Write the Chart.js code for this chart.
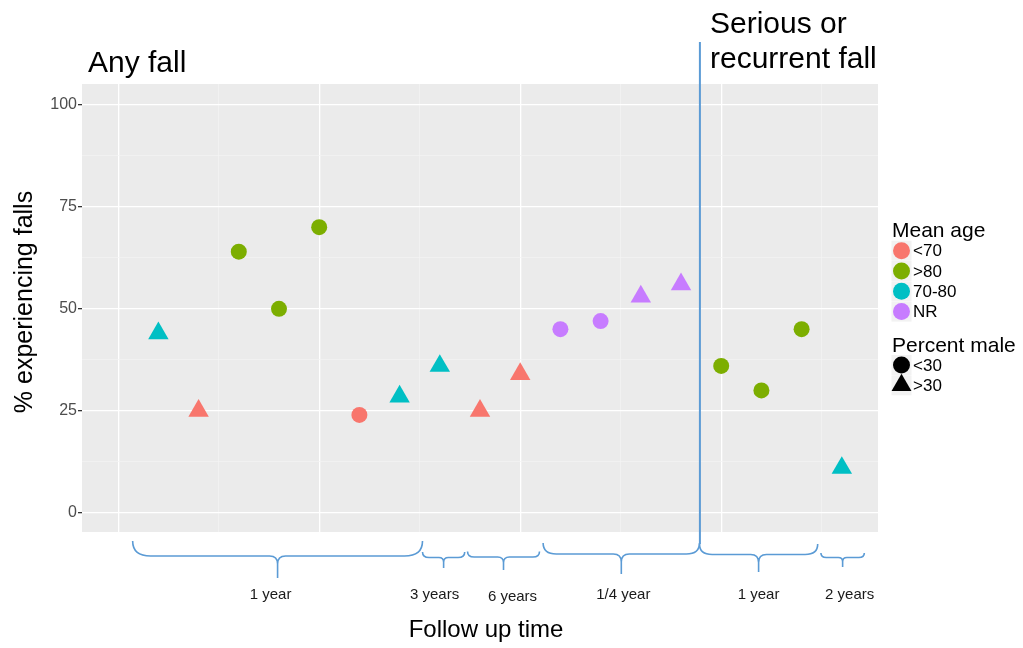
<!DOCTYPE html>
<html>
<head>
<meta charset="utf-8">
<title>Falls by follow up time</title>
<script src="https://cdn.jsdelivr.net/npm/chart.js@4.4.1/dist/chart.umd.min.js"></script>
<style>
  body { margin: 0; background: #fff; }
  #wrap { width: 1023px; height: 648px; }
</style>
</head>
<body>
<div id="wrap"><canvas id="grafico" width="1023" height="648"></canvas></div>
<script>
// datos (un punto por estudio)
const studyIndex = [1, 2, 3, 4, 5, 6, 7, 8, 9, 10, 11, 12, 13, 14, 15, 16, 17, 18];
const fallPercent = [44, 25, 64, 50, 70, 24, 28.5, 36, 25, 34, 45, 47, 53, 56, 36, 30, 45, 11];
const meanAge = ['70-80', '<70', '>80', '>80', '>80', '<70', '70-80', '70-80', '<70', '<70',
                 'NR', 'NR', 'NR', 'NR', '>80', '>80', '>80', '70-80'];
const percentMale = ['>30', '>30', '<30', '<30', '<30', '<30', '>30', '>30', '>30', '>30',
                     '<30', '<30', '>30', '>30', '<30', '<30', '<30', '>30'];

// categorias de las leyendas
const ageGroups = ['<70', '>80', '70-80', 'NR'];
const maleGroups = ['<30', '>30'];

// ticks del eje y
const yTicks = [0, 25, 50, 75, 100];
const yGrid = [0, 12.5, 25, 37.5, 50, 62.5, 75, 87.5, 100];
const xGrid = [0, 2.5, 5, 7.5, 10, 12.5, 15, 17.5];

// tiempos de seguimiento (llaves debajo del eje x)
const followLabels = ['1 year', '3 years', '6 years', '1/4 year', '1 year', '2 years'];
const followFrom = [0.36, 7.57, 8.69, 10.57, 14.46, 17.48];
const followTo = [7.57, 8.62, 10.48, 14.46, 17.40, 18.56];
const dividerAt = 14.47; // any fall | serious or recurrent fall

const ageColors = { '<70': '#F8766D', '>80': '#7CAE00', '70-80': '#00BFC4', 'NR': '#C77CFF' };
const FONT = "'Liberation Sans', Arial, Helvetica, sans-serif";
const BLUE = '#5B9BD5';

// estilo de cada llave (pixeles)
const braceLine = [556, 557.5, 557, 554, 554.5, 557.5];
const braceCurl = [15, 5.5, 5.5, 11, 10.5, 4.5];
const braceDrop = [22, 10.5, 13, 20, 17.5, 9.5];
const labelShift = [-7, -9, 9, 2, 0, 7];
const labelBase = [599, 599, 601, 599, 599, 599];

const isCircle = (i) => percentMale[i] === '<30';

const panelPlugin = {
  id: 'panel',
  beforeDraw(chart) {
    const { ctx, chartArea: a } = chart;
    ctx.save();
    ctx.fillStyle = '#EBEBEB';
    ctx.fillRect(a.left, a.top, a.width, a.height);
    ctx.restore();
  }
};

function drawBrace(ctx, x0, x1, yH, curl, drop) {
  const xm = (x0 + x1) / 2;
  const c = Math.min(curl * 1.2, (x1 - x0) / 4);
  const c2 = Math.min(8, drop * 0.45, (x1 - x0) / 4);
  ctx.beginPath();
  ctx.moveTo(x0, yH - curl);
  ctx.quadraticCurveTo(x0, yH, x0 + c, yH);
  ctx.lineTo(xm - c2, yH);
  ctx.quadraticCurveTo(xm, yH, xm, yH + c2);
  ctx.lineTo(xm, yH + drop);
  ctx.moveTo(xm, yH + c2);
  ctx.quadraticCurveTo(xm, yH, xm + c2, yH);
  ctx.lineTo(x1 - c, yH);
  ctx.quadraticCurveTo(x1, yH, x1, yH - curl);
  ctx.stroke();
}

const extrasPlugin = {
  id: 'extras',
  afterDraw(chart) {
    const { ctx } = chart;
    const xs = chart.scales.x;
    ctx.save();

    // linea divisoria
    const xd = xs.getPixelForValue(dividerAt);
    ctx.strokeStyle = BLUE;
    ctx.lineWidth = 2;
    ctx.beginPath();
    ctx.moveTo(xd, 42);
    ctx.lineTo(xd, 544);
    ctx.stroke();

    // llaves + etiquetas
    ctx.lineWidth = 1.6;
    ctx.fillStyle = '#1A1A1A';
    ctx.font = '15px ' + FONT;
    ctx.textAlign = 'center';
    ctx.textBaseline = 'alphabetic';
    followLabels.forEach((lab, i) => {
      const x0 = xs.getPixelForValue(followFrom[i]);
      const x1 = xs.getPixelForValue(followTo[i]);
      drawBrace(ctx, x0, x1, braceLine[i], braceCurl[i], braceDrop[i]);
      ctx.fillText(lab, (x0 + x1) / 2 + labelShift[i], labelBase[i]);
    });

    // titulos
    ctx.fillStyle = '#000';
    ctx.textAlign = 'left';
    ctx.font = '30px ' + FONT;
    ctx.fillText('Any fall', 88, 72);
    ctx.fillText('Serious or', 710, 33);
    ctx.fillText('recurrent fall', 710, 68);

    ctx.font = '24px ' + FONT;
    ctx.textAlign = 'center';
    ctx.fillText('Follow up time', 486, 637);

    ctx.save();
    ctx.translate(32, 302);
    ctx.rotate(-Math.PI / 2);
    ctx.font = '25px ' + FONT;
    ctx.fillText('% experiencing falls', 0, 0);
    ctx.restore();

    // leyenda
    ctx.textAlign = 'left';
    ctx.font = '21px ' + FONT;
    ctx.fillText('Mean age', 892, 237);
    ctx.fillText('Percent male', 892, 352);
    ctx.font = '17px ' + FONT;
    ctx.textBaseline = 'middle';
    ageGroups.forEach((g, i) => {
      const y = 250.7 + i * 20.3;
      ctx.fillStyle = '#F2F2F2';
      ctx.fillRect(891.5, y - 10, 20, 20);
      Chart.helpers.drawPoint(ctx, { pointStyle: 'circle', radius: 8.5, borderWidth: 0 }, 901.5, y);
      ctx.fillStyle = ageColors[g];
      ctx.beginPath();
      ctx.arc(901.5, y, 8.5, 0, Math.PI * 2);
      ctx.fill();
      ctx.fillStyle = '#000';
      ctx.fillText(g, 913, y + 1);
    });
    maleGroups.forEach((g, i) => {
      const y = 365 + i * 20.3;
      ctx.fillStyle = '#F2F2F2';
      ctx.fillRect(891.5, y - 10, 20, 20);
      ctx.fillStyle = '#000';
      ctx.strokeStyle = '#000';
      Chart.helpers.drawPoint(ctx, {
        pointStyle: i === 0 ? 'circle' : 'triangle',
        radius: i === 0 ? 8.5 : 11.5,
        borderWidth: 0
      }, 901.5, y);
      ctx.fillStyle = '#000';
      ctx.fillText(g, 913, y + 1);
    });
    ctx.restore();
  }
};

const ctx = document.getElementById('grafico').getContext('2d');
new Chart(ctx, {
  type: 'scatter',
  data: {
    datasets: [{
      data: studyIndex.map((x, i) => ({ x: x, y: fallPercent[i] })),
      backgroundColor: (c) => ageColors[meanAge[c.dataIndex]],
      borderColor: (c) => ageColors[meanAge[c.dataIndex]],
      borderWidth: 0,
      pointStyle: (c) => isCircle(c.dataIndex) ? 'circle' : 'triangle',
      pointRadius: (c) => isCircle(c.dataIndex) ? 8 : 11.8,
      pointHoverRadius: (c) => isCircle(c.dataIndex) ? 8 : 11.8
    }]
  },
  options: {
    responsive: false,
    animation: false,
    events: [],
    layout: { padding: { top: 84, right: 145, left: 0, bottom: 0 } },
    plugins: {
      legend: { display: false },
      tooltip: { enabled: false }
    },
    scales: {
      x: {
        type: 'linear',
        min: -0.9,
        max: 18.9,
        afterBuildTicks: (s) => { s.ticks = xGrid.map(v => ({ value: v })); },
        afterFit: (s) => { s.height = 116; },
        border: { display: false },
        grid: {
          drawTicks: false,
          color: (c) => c.tick && c.tick.value % 5 === 0 ? '#FFFFFF' : '#F3F3F3',
          lineWidth: (c) => c.tick && c.tick.value % 5 === 0 ? 1.3 : 0.7
        },
        ticks: { display: false, autoSkip: false }
      },
      y: {
        min: -4.7,
        max: 105.1,
        afterBuildTicks: (s) => { s.ticks = yGrid.map(v => ({ value: v })); },
        afterFit: (s) => { s.width = 82; },
        border: { display: false },
        grid: {
          tickLength: 4,
          color: (c) => c.tick && yTicks.includes(c.tick.value) ? '#FFFFFF' : '#F3F3F3',
          lineWidth: (c) => c.tick && yTicks.includes(c.tick.value) ? 1.3 : 0.7,
          tickColor: (c) => c.tick && yTicks.includes(c.tick.value) ? '#333333' : 'rgba(0,0,0,0)'
        },
        ticks: {
          autoSkip: false,
          padding: 1,
          color: '#4D4D4D',
          font: { family: FONT, size: 16 },
          callback: (v) => yTicks.includes(v) ? String(v) : ''
        }
      }
    }
  },
  plugins: [panelPlugin, extrasPlugin]
});
</script>
</body>
</html>
